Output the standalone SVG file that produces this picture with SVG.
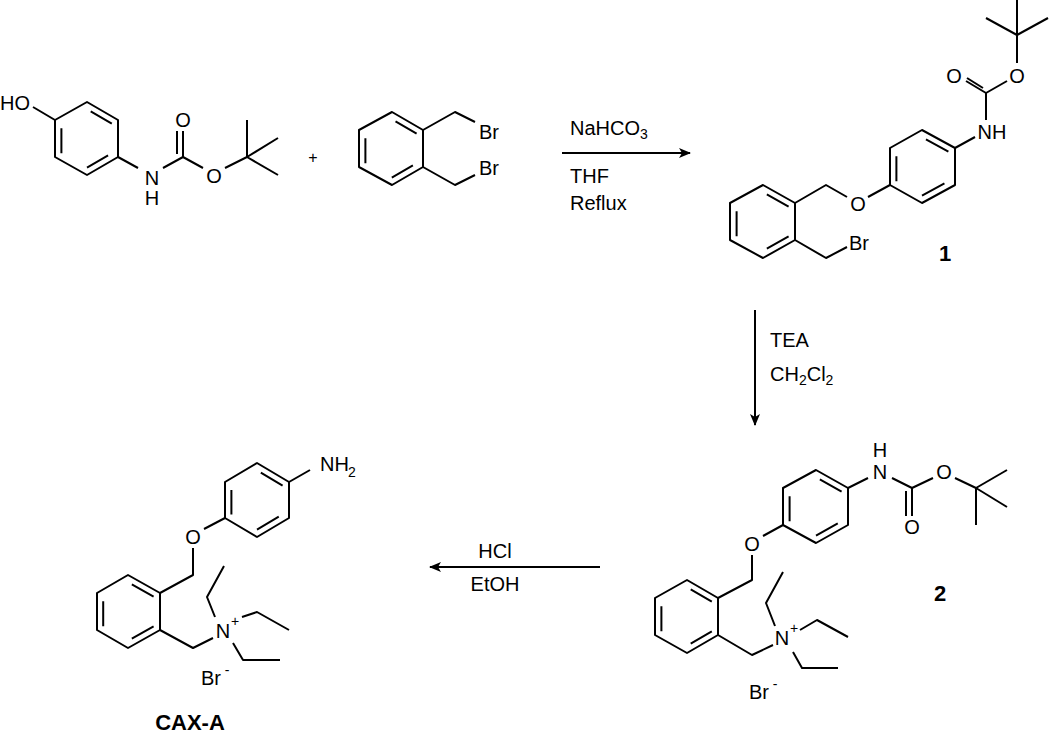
<svg xmlns="http://www.w3.org/2000/svg" width="1050" height="739" viewBox="0 0 1050 739">
<style>
line,polyline,polygon{stroke:#000;stroke-width:2;fill:none;stroke-linejoin:round}
.in line{vector-effect:non-scaling-stroke;stroke-dasharray:0 12 76 12}
text{font-family:"Liberation Sans",Arial,sans-serif;font-size:20px;fill:#000;dominant-baseline:central;text-anchor:middle}
.b{font-weight:bold;font-size:22px}
.l{text-anchor:start}
</style>
<defs><marker id="ah" markerWidth="12" markerHeight="10" refX="11" refY="5" orient="auto" markerUnits="userSpaceOnUse"><path d="M0,0 L12,5 L0,10 L3,5 Z" fill="#000"/></marker></defs>
<rect width="1050" height="739" fill="#fff"/>

<g id="reactant-a">
<polygon points="87,102 118,120 118,157 87,175 55,157 55,120"/>
<g class="in" transform="translate(87 138.5) scale(.8) translate(-87 -138.5)"><line x1="87" y1="102" x2="118" y2="120" pathLength="100"/><line x1="55" y1="120" x2="55" y2="157" pathLength="100"/><line x1="118" y1="157" x2="87" y2="175" pathLength="100"/></g>
<line x1="33" y1="107" x2="55" y2="120"/>
<text x="15" y="103">HO</text>
<polyline points="118,157 138,168"/>
<text x="152" y="178">N</text><text x="152" y="198">H</text>
<polyline points="163,168 183,157 203,168"/>
<line x1="183" y1="157" x2="183" y2="131"/><line x1="177" y1="154" x2="177" y2="131"/>
<text x="183" y="120">O</text>
<text x="214" y="176">O</text>
<line x1="225" y1="168" x2="247" y2="157"/>
<line x1="247" y1="157" x2="247" y2="120"/><line x1="247" y1="157" x2="278" y2="138"/><line x1="247" y1="157" x2="278" y2="175"/>
</g>
<text x="313" y="157" style="font-size:16px">+</text>
<g id="reactant-b">
<polygon points="392,112 423,130 423,167 392,185 359,167 359,130"/>
<g class="in" transform="translate(391 148.5) scale(.8) translate(-391 -148.5)"><line x1="392" y1="112" x2="423" y2="130" pathLength="100"/><line x1="359" y1="130" x2="359" y2="167" pathLength="100"/><line x1="423" y1="167" x2="392" y2="185" pathLength="100"/></g>
<polyline points="423,130 455,112 475,122"/><polyline points="423,167 455,185 475,175"/>
<text x="479" y="132" class="l">Br</text><text x="479" y="168" class="l">Br</text>
</g>

<g id="compound-1">
<line x1="1017" y1="35" x2="1017" y2="0"/><line x1="1017" y1="35" x2="986" y2="18"/><line x1="1017" y1="35" x2="1048" y2="18"/><line x1="1017" y1="35" x2="1017" y2="63"/>
<text x="1017" y="76">O</text>
<line x1="1007" y1="81" x2="986" y2="93"/>
<line x1="986" y1="93" x2="966" y2="81"/><line x1="983" y1="88" x2="967" y2="78"/>
<text x="954" y="76">O</text>
<line x1="986" y1="93" x2="986" y2="120"/>
<text x="992" y="132">NH</text>
<line x1="975" y1="137" x2="955" y2="148"/>
<polygon points="955,148 955,185 922,203 890,185 890,148 922,130"/>
<g class="in" transform="translate(922 166.5) scale(.8) translate(-922 -166.5)"><line x1="922" y1="130" x2="955" y2="148" pathLength="100"/><line x1="955" y1="185" x2="922" y2="203" pathLength="100"/><line x1="890" y1="148" x2="890" y2="185" pathLength="100"/></g>
<line x1="890" y1="185" x2="868" y2="197"/>
<text x="858" y="204">O</text>
<polyline points="847,197 826,185 795,203"/>
<polygon points="795,203 795,240 763,258 730,240 730,203 763,185"/>
<g class="in" transform="translate(763 221.5) scale(.8) translate(-763 -221.5)"><line x1="763" y1="185" x2="795" y2="203" pathLength="100"/><line x1="730" y1="203" x2="730" y2="240" pathLength="100"/><line x1="763" y1="258" x2="795" y2="240" pathLength="100"/></g>
<polyline points="795,240 826,258 847,247"/>
<text x="849" y="243" class="l">Br</text>
<text x="945" y="253" class="b">1</text>
</g>

<g id="compound-2">
<text x="880" y="450">H</text><text x="880" y="472">N</text>
<polygon points="816,470 848,488 848,525 816,543 783,525 783,488"/>
<g class="in" transform="translate(816 506.5) scale(.8) translate(-816 -506.5)"><line x1="816" y1="470" x2="848" y2="488" pathLength="100"/><line x1="848" y1="525" x2="816" y2="543" pathLength="100"/><line x1="783" y1="488" x2="783" y2="525" pathLength="100"/></g>
<line x1="848" y1="488" x2="868" y2="478"/>
<polyline points="892,478 912,488 933,478"/>
<line x1="912" y1="488" x2="912" y2="516"/><line x1="906" y1="491" x2="906" y2="516"/>
<text x="912" y="527">O</text>
<text x="944" y="472">O</text>
<line x1="955" y1="478" x2="976" y2="488"/>
<line x1="976" y1="488" x2="1007" y2="470"/><line x1="976" y1="488" x2="1007" y2="507"/><line x1="976" y1="488" x2="976" y2="525"/>
<line x1="783" y1="525" x2="763" y2="536"/>
<text x="752" y="544">O</text>
<polyline points="752,555 752,580 718,598"/>
<polygon points="718,598 718,635 687,653 655,635 655,598 687,580"/>
<g class="in" transform="translate(687 616.5) scale(.8) translate(-687 -616.5)"><line x1="687" y1="580" x2="718" y2="598" pathLength="100"/><line x1="655" y1="598" x2="655" y2="635" pathLength="100"/><line x1="687" y1="653" x2="718" y2="635" pathLength="100"/></g>
<polyline points="718,635 752,655 773,645"/>
<text x="782" y="638">N</text><text x="794" y="628" style="font-size:14px">+</text>
<polyline points="775,626 766,603 783,572"/>
<polyline points="800,630 817,620 848,637"/>
<polyline points="793,652 802,668 838,668"/>
<text x="759" y="692">Br</text><text x="775" y="684" style="font-size:14px">-</text>
<text x="940" y="593" class="b">2</text>
</g>

<g id="cax-a">
<text x="320" y="464" class="l">NH</text><text x="348" y="472" style="font-size:14px" class="l">2</text>
<line x1="289" y1="482" x2="310" y2="470"/>
<polygon points="257,463 289,482 289,518 257,537 225,518 225,482"/>
<g class="in" transform="translate(257 500) scale(.8) translate(-257 -500)"><line x1="257" y1="463" x2="289" y2="482" pathLength="100"/><line x1="289" y1="518" x2="257" y2="537" pathLength="100"/><line x1="225" y1="482" x2="225" y2="518" pathLength="100"/></g>
<line x1="225" y1="518" x2="204" y2="529"/>
<text x="193" y="537">O</text>
<polyline points="193,548 193,575 160,593"/>
<polygon points="160,593 160,630 128,648 97,630 97,593 128,575"/>
<g class="in" transform="translate(128 611.5) scale(.8) translate(-128 -611.5)"><line x1="128" y1="575" x2="160" y2="593" pathLength="100"/><line x1="97" y1="593" x2="97" y2="630" pathLength="100"/><line x1="128" y1="648" x2="160" y2="630" pathLength="100"/></g>
<polyline points="160,630 193,648 213,638"/>
<text x="223" y="631">N</text><text x="235" y="621" style="font-size:14px">+</text>
<polyline points="215,617 207,597 224,566"/>
<polyline points="242,617 257,612 289,630"/>
<polyline points="233,643 243,660 280,660"/>
<text x="211" y="678">Br</text><text x="227" y="670" style="font-size:14px">-</text>
<text x="190" y="722" class="b">CAX-A</text>
</g>

<g id="connectors">
<line x1="562" y1="153" x2="690" y2="153" marker-end="url(#ah)"/>
<line x1="755" y1="310" x2="755" y2="425" marker-end="url(#ah)"/>
<line x1="600" y1="567" x2="430" y2="567" marker-end="url(#ah)"/>
</g>
<text x="570" y="128" class="l">NaHCO<tspan style="font-size:14px" dy="6">3</tspan></text>
<text x="570" y="176" class="l">THF</text>
<text x="570" y="203" class="l">Reflux</text>
<text x="770" y="340" class="l">TEA</text>
<text x="770" y="374" class="l">CH<tspan style="font-size:14px" dy="6">2</tspan><tspan dy="-6">Cl</tspan><tspan style="font-size:14px" dy="6">2</tspan></text>
<text x="495" y="551">HCl</text>
<text x="495" y="584">EtOH</text>
</svg>
